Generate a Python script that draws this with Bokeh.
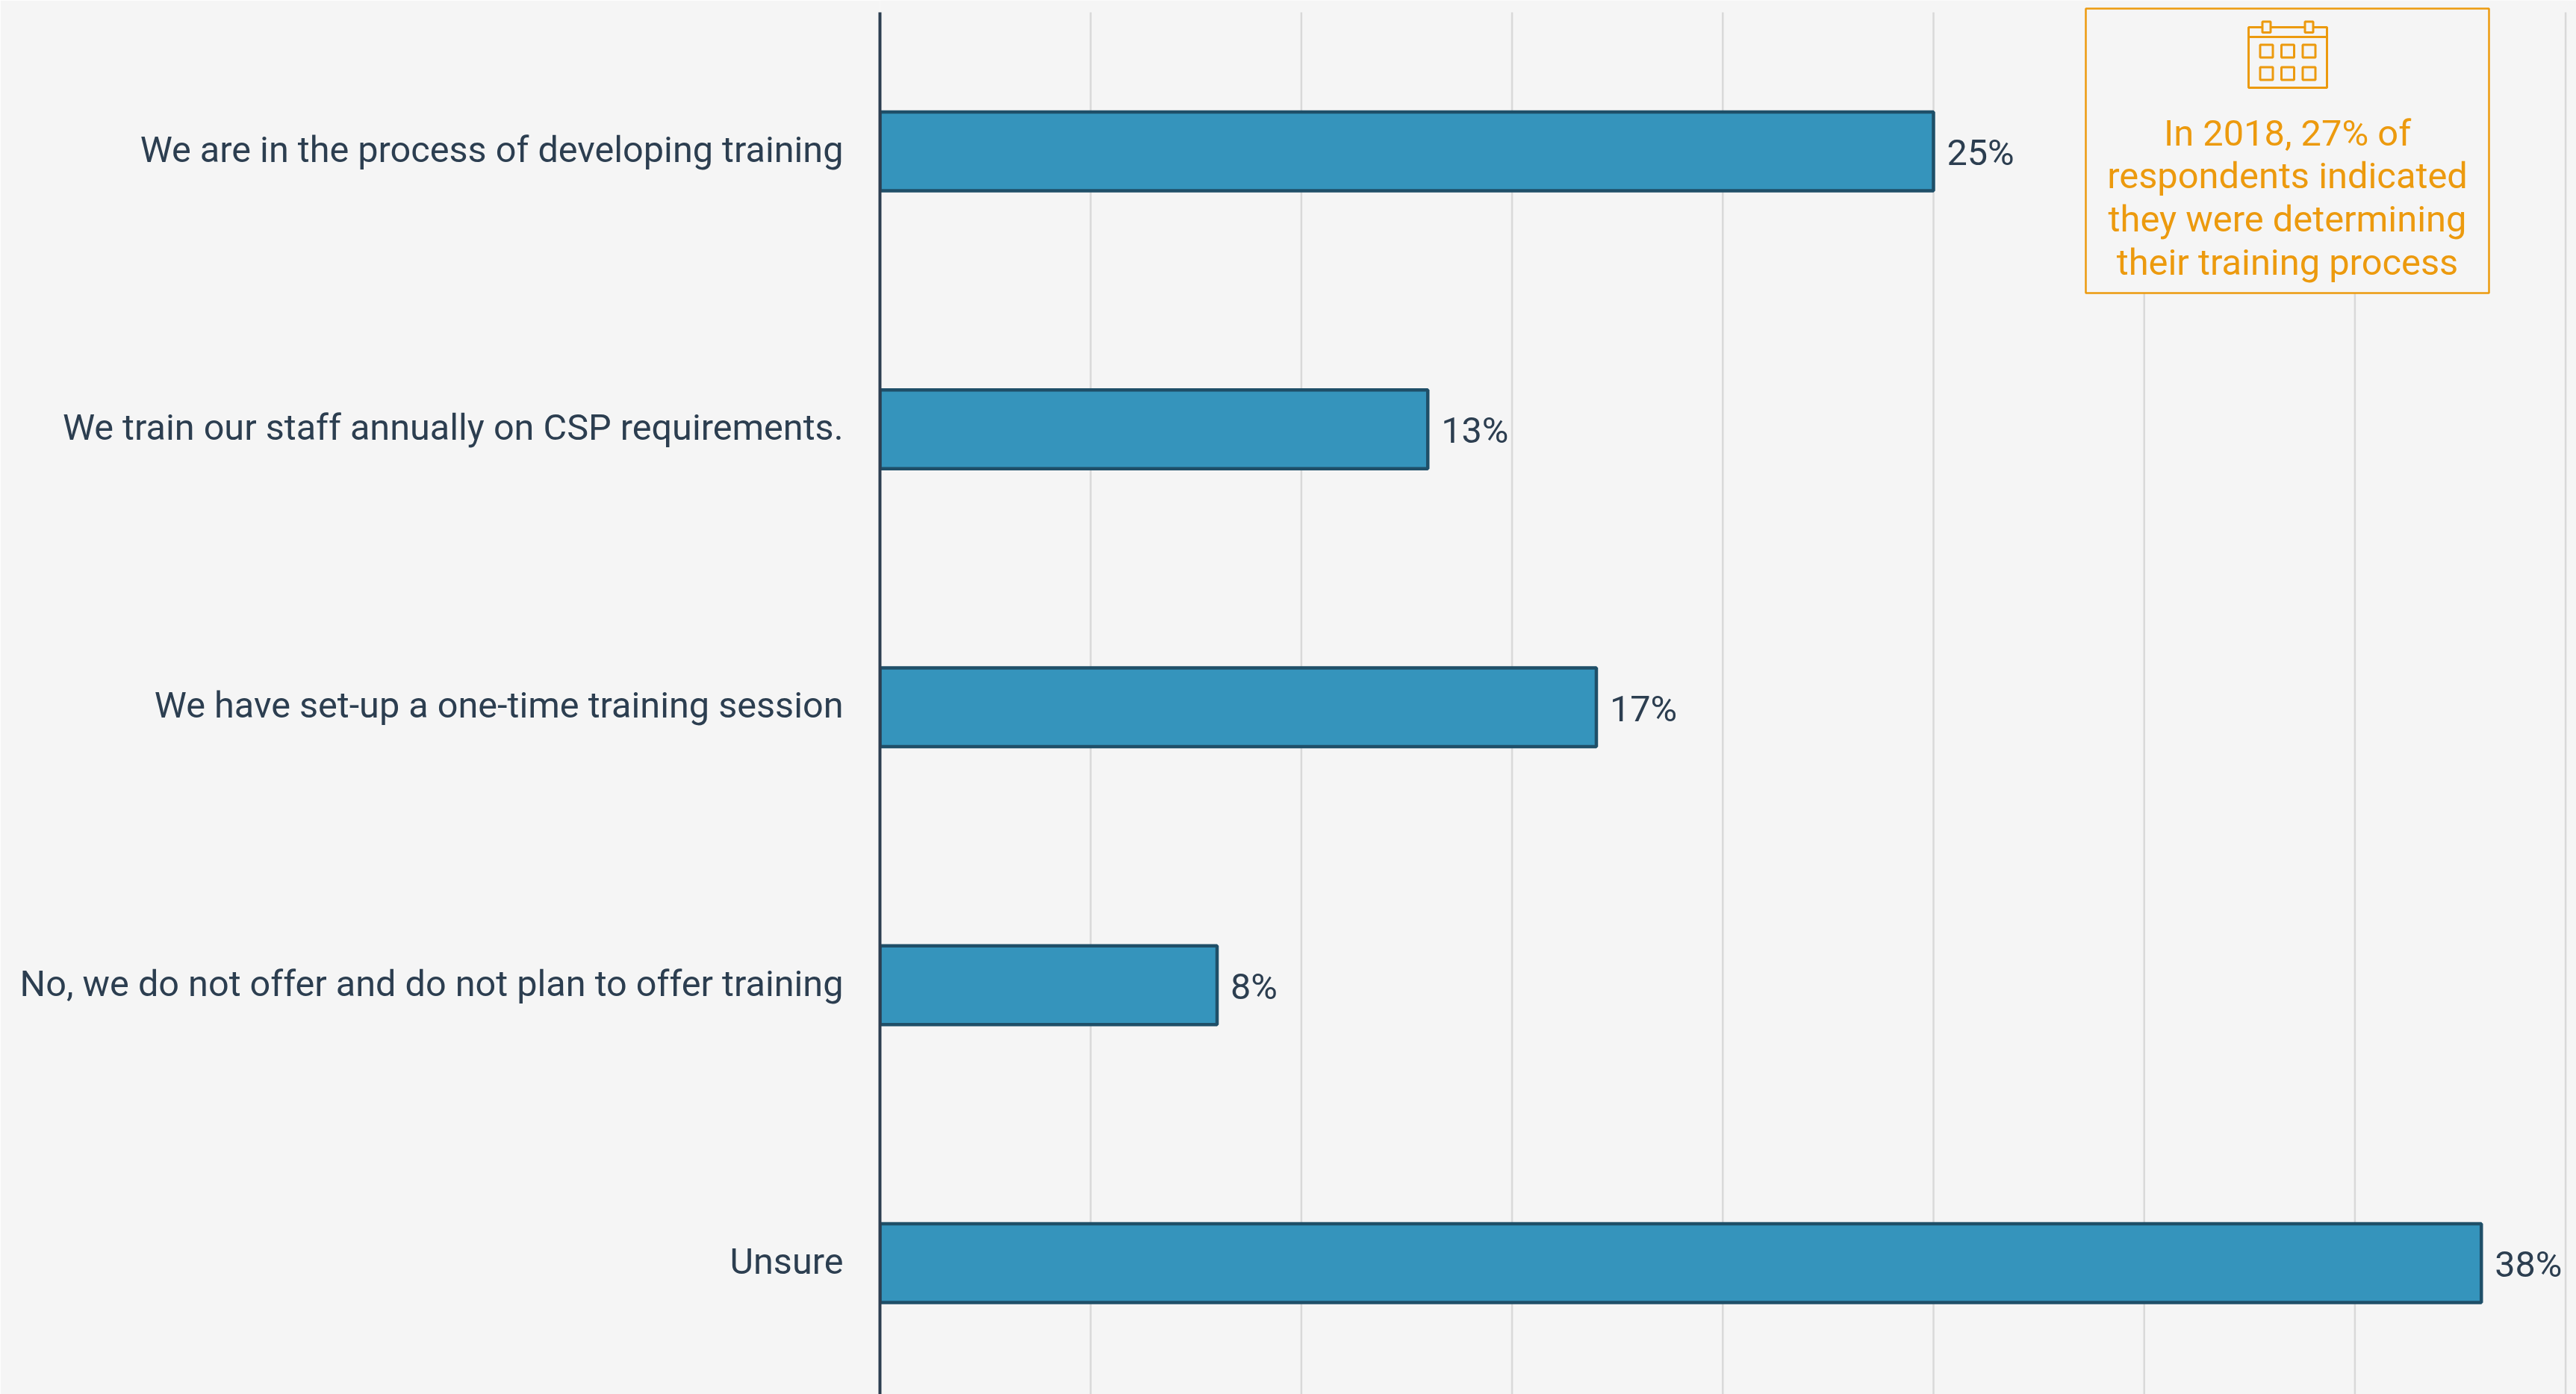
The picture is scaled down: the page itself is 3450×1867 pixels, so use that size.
from bokeh.embed import file_html
from bokeh.models import ColumnDataSource, FixedTicker, Range1d
from bokeh.plotting import figure
from bokeh.resources import INLINE
from bokeh.core.properties import value

categories = [
    "We are in the process of developing training",
    "We train our staff annually on CSP requirements.",
    "We have set-up a one-time training session",
    "No, we do not offer and do not plan to offer training",
    "Unsure",
]
percentages = [25, 13, 17, 8, 38]
grid_ticks = [5, 10, 15, 20, 25, 30, 35, 40]
note_lines = [
    "In 2018, 27% of",
    "respondents indicated",
    "they were determining",
    "their training process",
]

BG = "#f5f5f5"
INK = "#2c3e50"
BAR = "#3594bc"
BAR_EDGE = "#1f4f68"
GRID = "#d9d9d9"
ORANGE = "#ec9a0e"
FONT = "Roboto"

WIDTH, HEIGHT = 3450, 1867
AXIS_X = 1178
PX_PER_PCT = 56.44
BAND = 372.25
TOP = 16


def xd(px):
    """Canvas x position in percentage units."""
    return (px - AXIS_X) / PX_PER_PCT


def yd(py):
    """Canvas y position in row units (row 0 is the top bar)."""
    return (py - TOP) / BAND - 0.5


p = figure(
    width=WIDTH,
    height=HEIGHT,
    output_backend="svg",
    toolbar_location=None,
    x_range=Range1d(0, xd(WIDTH)),
    y_range=Range1d(yd(HEIGHT), yd(0)),
    min_border_left=AXIS_X,
    min_border_right=0,
    min_border_top=0,
    min_border_bottom=0,
    background_fill_color=BG,
    border_fill_color=BG,
    outline_line_color=None,
)
p.xaxis.visible = False
p.grid.visible = False

rows = list(range(len(categories)))

# vertical guides stop level with the top of the category axis
p.segment(
    x0=grid_ticks, x1=grid_ticks,
    y0=[yd(TOP)] * len(grid_ticks), y1=[yd(HEIGHT)] * len(grid_ticks),
    line_color=GRID, line_width=2.5,
)

source = ColumnDataSource(dict(
    y=rows,
    pct=percentages,
    label=[f"{v}%" for v in percentages],
))
p.hbar(
    y="y", left=0, right="pct", height=105.5 / BAND, source=source,
    fill_color=BAR, line_color=BAR_EDGE, line_width=4.5,
)
p.text(
    x="pct", y="y", text="label", source=source,
    x_offset=18, y_offset=2,
    text_font=value(FONT), text_font_size="48.6px", text_color=INK,
    text_baseline="middle", text_align="left",
)

# category names sit a touch above each bar's centre line
label_ticks = [r - 0.006 for r in rows]
axis = p.yaxis[0]
axis.ticker = FixedTicker(ticks=label_ticks)
axis.major_label_overrides = dict(zip(label_ticks, categories))
axis.bounds = (yd(TOP), yd(HEIGHT))
axis.axis_line_color = INK
axis.axis_line_width = 4
axis.major_tick_line_color = None
axis.minor_tick_line_color = None
axis.major_label_standoff = 43
axis.major_label_text_font = FONT
axis.major_label_text_font_size = "48.6px"
axis.major_label_text_color = INK

# callout box in the upper right corner
p.quad(
    left=[xd(2793)], right=[xd(3333)], top=[yd(11)], bottom=[yd(392)],
    fill_color=BG, line_color=ORANGE, line_width=2.5,
)

# calendar icon: body, header rule, binder tabs and day cells
p.quad(left=[xd(3011)], right=[xd(3116)], top=[yd(36)], bottom=[yd(117)],
       fill_color=None, line_color=ORANGE, line_width=3)
p.segment(x0=[xd(3011)], x1=[xd(3116)], y0=[yd(49)], y1=[yd(49)],
          line_color=ORANGE, line_width=3)
for tab_left in (3029.5, 3086.5):
    p.quad(left=[xd(tab_left)], right=[xd(tab_left + 11)], top=[yd(28.5)], bottom=[yd(43)],
           fill_color=BG, line_color=ORANGE, line_width=3)
for cell_top in (59.5, 89.5):
    for cell_left in (3026.5, 3055, 3083.5):
        p.quad(left=[xd(cell_left)], right=[xd(cell_left + 17)],
               top=[yd(cell_top)], bottom=[yd(cell_top + 17)],
               fill_color=None, line_color=ORANGE, line_width=3)

# callout wording, one glyph per line on fixed baselines
p.text(
    x=[xd(3063)] * len(note_lines),
    y=[yd(177.5 + 57.9 * i) for i in range(len(note_lines))],
    text=note_lines,
    text_font=value(FONT), text_font_size="48.8px", text_color=ORANGE,
    text_align="center", text_baseline="alphabetic",
)

open("out.html", "w").write(file_html(p, INLINE))
